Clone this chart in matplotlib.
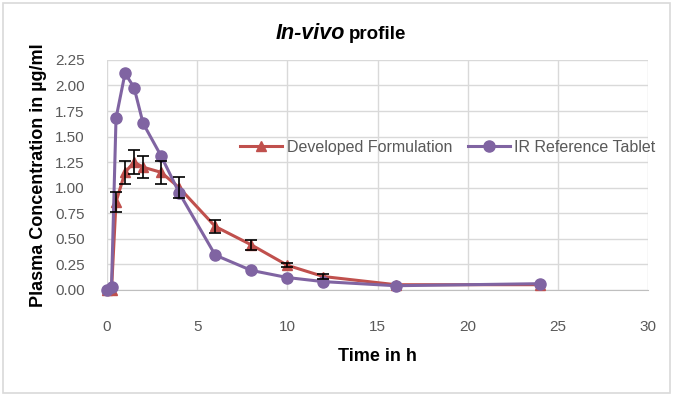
import numpy as np
import matplotlib.pyplot as plt
from matplotlib.patches import Rectangle

# datos
tiempo = [0, 0.25, 0.5, 1, 1.5, 2, 3, 4, 6, 8, 10, 12, 16, 24]
desarrollada = [0, 0, 0.86, 1.15, 1.25, 1.20, 1.15, 1.00, 0.62, 0.44, 0.24, 0.13, 0.05, 0.05]
error_des = [0, 0, 0.10, 0.11, 0.12, 0.11, 0.11, 0.10, 0.06, 0.05, 0.02, 0.02, 0, 0]
referencia = [0, 0.03, 1.68, 2.12, 1.98, 1.63, 1.31, 0.95, 0.34, 0.19, 0.12, 0.08, 0.04, 0.06]
etiquetas = ['Developed Formulation', 'IR Reference Tablet']

plt.rcParams['font.family'] = ['Liberation Sans', 'DejaVu Sans']

fig = plt.figure(figsize=(6.73, 3.97), dpi=100)
ax = fig.add_axes([0.159, 0.270, 0.804, 0.579])

# borde del area del grafico
fig.patches.append(Rectangle((0.005, 0.01), 0.99, 0.982, transform=fig.transFigure,
                             fill=False, edgecolor='#D9D9D9', linewidth=1.2))

# barras de error solo donde hay desviacion
t_e = [t for t, e in zip(tiempo, error_des) if e > 0]
y_e = [y for y, e in zip(desarrollada, error_des) if e > 0]
e_e = [e for e in error_des if e > 0]
ax.errorbar(t_e, y_e, yerr=e_e, fmt='none', ecolor='black', elinewidth=1.2,
            capsize=4, capthick=1.2, zorder=5)

l1, = ax.plot(tiempo, desarrollada, color='#C0504D', lw=2.2, marker='^', ms=7.5,
              label=etiquetas[0], zorder=3, clip_on=False)
l2, = ax.plot(tiempo, referencia, color='#8064A2', lw=2.2, marker='o', ms=8,
              label=etiquetas[1], zorder=4, clip_on=False)

ax.set_xlim(0, 30)
ax.set_ylim(0, 2.25)
ax.set_xticks(np.arange(0, 31, 5))
ax.set_yticks(np.arange(0, 2.26, 0.25))
ax.set_yticklabels([f'{v:.2f}' for v in np.arange(0, 2.26, 0.25)])
ax.grid(True, color='#D9D9D9', linewidth=1)
ax.set_axisbelow(True)
for s in ['top', 'right', 'left']:
    ax.spines[s].set_visible(False)
ax.spines['bottom'].set_color('#BFBFBF')
ax.tick_params(axis='both', length=0, labelsize=11, labelcolor='#595959')
ax.tick_params(axis='x', pad=22)
ax.tick_params(axis='y', pad=16)

ax.set_xlabel('Time in h', fontsize=13, fontweight='bold', labelpad=10)
ax.set_ylabel('Plasma Concentration in µg/ml', fontsize=13, fontweight='bold', labelpad=6)

fig.text(0.512, 0.915, 'In-vivo', fontsize=15.5, fontweight='bold', style='italic',
         ha='right', va='center')
fig.text(0.518, 0.913, 'profile', fontsize=13.5, fontweight='bold', ha='left', va='center')

ax.legend(handles=[l1, l2], loc='center left', bbox_to_anchor=(0.22, 0.62), ncol=2,
          frameon=False, fontsize=11.5, labelcolor='#595959', handlelength=2.6,
          columnspacing=1.0, handletextpad=0.3)

plt.savefig('out.png', dpi=100)
